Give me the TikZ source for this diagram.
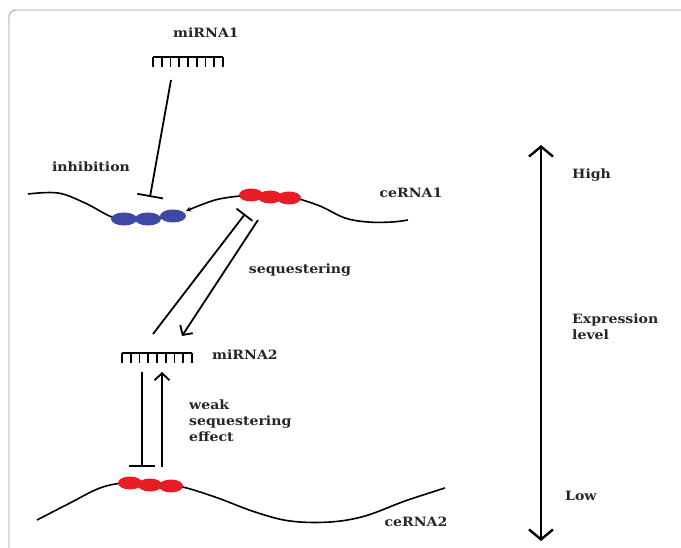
\documentclass[tikz,border=0pt]{standalone}
\usepackage{fontspec}
\setmainfont{DejaVu Serif}[FakeStretch=1.1]
\usetikzlibrary{arrows.meta}
\definecolor{beadblue}{RGB}{62,72,165}
\definecolor{beadred}{RGB}{232,28,36}
\definecolor{framegray}{RGB}{150,150,150}
\tikzset{
  lab/.style={font=\bfseries\fontsize{12.8}{16}\selectfont, text=black!85, inner sep=0pt},
  conn/.style={line width=1.8pt, black},
  inh/.style={conn, -{Bar[width=26pt,line width=1.8pt]}},
  inhs/.style={conn, -{Bar[width=20pt,line width=1.8pt]}},
  act/.style={conn, -{Straight Barb[length=7pt,width=15pt,line width=1.8pt]}},
  rna/.style={line width=1.6pt, black},
  bblue/.style={fill=beadblue, draw=none},
  bred/.style={fill=beadred, draw=none},
  axis/.style={line width=2.6pt, {Straight Barb[length=10pt,width=24pt,line width=2.4pt]}-{Straight Barb[length=10pt,width=24pt,line width=2.4pt]}},
  comb/.style={line width=1.7pt, black},
}
\newcommand{\mycomb}[3]{% x0, x1, y
  \draw[comb] (#1,#3) -- (#2,#3);
  \foreach \k in {0,...,8} {
    \draw[comb] ({#1+\k*(#2-#1)/8},#3) -- ++(0,10);
  }
}
\begin{document}
\begin{tikzpicture}[x=1pt,y=-1pt]
\useasboundingbox (0,0) rectangle (681,548);
% frame
\draw[framegray, line width=0.8pt, rounded corners=7pt] (9,548) -- (9,10) -- (690,10);

% combs
\mycomb{153}{223}{57}
\mycomb{122}{192}{353}
\coordinate (m1) at (171,80);
\coordinate (m2l) at (153,334);
\coordinate (m2r) at (182,336);
\coordinate (m2a) at (142,372);
\coordinate (m2b) at (162,372);

% labels
\node[lab] (tmi1) at (206,33) {miRNA1};
\node[lab] (tinh) at (91,167) {inhibition};
\node[lab] (tce1) at (411,193) {ceRNA1};
\node[lab] (tseq) at (300,270) {sequestering};
\node[lab] (tmi2) at (245,355) {miRNA2};
\node[lab, align=left, anchor=west] (tweak) at (189,421) {weak\\sequestering\\effect};
\node[lab] (tce2) at (416,522) {ceRNA2};
\node[lab, anchor=west] (thigh) at (572,175) {High};
\node[lab, align=left, anchor=west] (texpr) at (572,327) {Expression\\level};
\node[lab, anchor=west] (tlow) at (565,496) {Low};

% ceRNA1 strand
\draw[rna] plot[smooth, tension=0.6] coordinates {(28,194) (58,193) (85,203) (112,217) (130,219) (160,218) (182,212)};
\draw[rna, -{Stealth[length=5pt,width=5pt]}] plot[smooth, tension=0.6] coordinates {(240,196) (215,200) (186,211)};
\draw[rna] plot[smooth, tension=0.6] coordinates {(296,198) (320,206) (345,218) (368,222) (392,222) (408,220)};
\foreach \cx/\cy in {124/219, 148/219, 173/216} \fill[bblue] (\cx,\cy) ellipse (13pt and 6.5pt);
\foreach \cx/\cy in {251/195, 270/197, 289/198} \fill[bred] (\cx,\cy) ellipse (12pt and 6.5pt);
\coordinate (c1blue) at (150,197);
\coordinate (c1redT) at (245,214);
\coordinate (c1redA) at (258,220);

% ceRNA2 strand
\draw[rna] plot[smooth, tension=0.6] coordinates {(37,520) (70,503) (100,488) (125,483) (150,485) (178,486) (215,497) (255,512) (290,521) (330,522) (365,516) (405,501) (445,488)};
\foreach \cx/\cy in {130/483, 150/485, 171/486} \fill[bred] (\cx,\cy) ellipse (12pt and 6.5pt);
\coordinate (c2a) at (142,467);
\coordinate (c2b) at (162,467);

% connectors
\draw[inh] (m1) -- (c1blue);
\draw[inhs] (m2l) -- (c1redT);
\draw[act] (c1redA) -- (m2r);
\draw[inh] (m2a) -- (c2a);
\draw[act] (c2b) -- (m2b);

% axis
\coordinate (axtop) at (541,145);
\coordinate (axbot) at (541,541);
\draw[axis] (axtop) -- (axbot);
\end{tikzpicture}
\end{document}
